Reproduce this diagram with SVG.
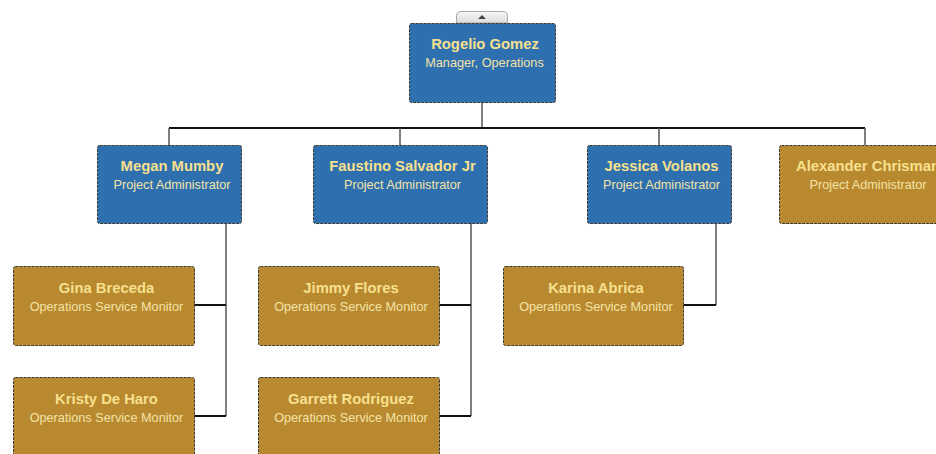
<svg xmlns="http://www.w3.org/2000/svg" width="936" height="454" viewBox="0 0 936 454">
  <style>
    .box { stroke: #3d3a30; stroke-width: 1; stroke-dasharray: 3 1; }
    .mgr { fill: #2E6FAF; }
    .staff { fill: #B9892F; }
    .name { font-family: "Liberation Sans", Arial, sans-serif; font-size: 14.8px; font-weight: bold; fill: #F7E08E; text-anchor: middle; }
    .role { font-family: "Liberation Sans", Arial, sans-serif; font-size: 12.7px; fill: #F3E3A6; text-anchor: middle; }
    .h { stroke: #111; stroke-width: 2; fill: none; }
    .v { stroke: #555; stroke-width: 1.5; fill: none; }
  </style>
  <defs>
    <linearGradient id="tabFill" x1="0" y1="0" x2="0" y2="1">
      <stop offset="0" stop-color="#f6f6f6"/>
      <stop offset="1" stop-color="#dcdcdc"/>
    </linearGradient>
  </defs>

  <!-- connectors -->
  <g id="connectors">
    <path class="v" d="M482 102 V128"/>
    <path class="h" d="M169 128 H865"/>
    <path class="v" d="M169 128 V145 M400 128 V145 M659 128 V145 M865 128 V145"/>
    <path class="v" d="M226 223 V416 M471 223 V416 M716 223 V305"/>
    <path class="h" d="M194 305 H226 M194 416 H226 M439 305 H471 M439 416 H471 M683 305 H716"/>
  </g>

  <!-- collapse tab -->
  <g id="collapse-tab">
    <path d="M456.5 23 V16 Q456.5 11.5 461 11.5 H503 Q507.5 11.5 507.5 16 V23 Z" fill="url(#tabFill)" stroke="#aaaaaa" stroke-width="1"/>
    <path d="M478 19 L482 15 L486 19 Z" fill="#444"/>
  </g>

  <g id="rogelio-gomez">
    <rect class="box mgr" x="409.5" y="23.5" width="146" height="79" rx="2"/>
    <text class="name" x="485" y="49">Rogelio Gomez</text>
    <text class="role" x="484.5" y="67">Manager, Operations</text>
  </g>

  <g id="megan-mumby">
    <rect class="box mgr" x="97.5" y="145.5" width="144" height="78" rx="2"/>
    <text class="name" x="172" y="171">Megan Mumby</text>
    <text class="role" x="172" y="189">Project Administrator</text>
  </g>

  <g id="faustino-salvador">
    <rect class="box mgr" x="313.5" y="145.5" width="174" height="78" rx="2"/>
    <text class="name" x="402.5" y="171">Faustino Salvador Jr</text>
    <text class="role" x="402.5" y="189">Project Administrator</text>
  </g>

  <g id="jessica-volanos">
    <rect class="box mgr" x="587.5" y="145.5" width="144" height="78" rx="2"/>
    <text class="name" x="661.5" y="171">Jessica Volanos</text>
    <text class="role" x="661.5" y="189">Project Administrator</text>
  </g>

  <g id="alexander-chrisman">
    <rect class="box staff" x="779.5" y="145.5" width="174" height="78" rx="2"/>
    <text class="name" x="868" y="171">Alexander Chrisman</text>
    <text class="role" x="868" y="189">Project Administrator</text>
  </g>

  <g id="gina-breceda">
    <rect class="box staff" x="13.5" y="266.5" width="181" height="79" rx="2"/>
    <text class="name" x="106.5" y="293">Gina Breceda</text>
    <text class="role" x="106.5" y="311">Operations Service Monitor</text>
  </g>

  <g id="kristy-de-haro">
    <rect class="box staff" x="13.5" y="377.5" width="181" height="79" rx="2"/>
    <text class="name" x="106.5" y="404">Kristy De Haro</text>
    <text class="role" x="106.5" y="422">Operations Service Monitor</text>
  </g>

  <g id="jimmy-flores">
    <rect class="box staff" x="258.5" y="266.5" width="181" height="79" rx="2"/>
    <text class="name" x="351" y="293">Jimmy Flores</text>
    <text class="role" x="351" y="311">Operations Service Monitor</text>
  </g>

  <g id="garrett-rodriguez">
    <rect class="box staff" x="258.5" y="377.5" width="181" height="79" rx="2"/>
    <text class="name" x="351" y="404">Garrett Rodriguez</text>
    <text class="role" x="351" y="422">Operations Service Monitor</text>
  </g>

  <g id="karina-abrica">
    <rect class="box staff" x="503.5" y="266.5" width="180" height="79" rx="2"/>
    <text class="name" x="596" y="293">Karina Abrica</text>
    <text class="role" x="596" y="311">Operations Service Monitor</text>
  </g>
</svg>
